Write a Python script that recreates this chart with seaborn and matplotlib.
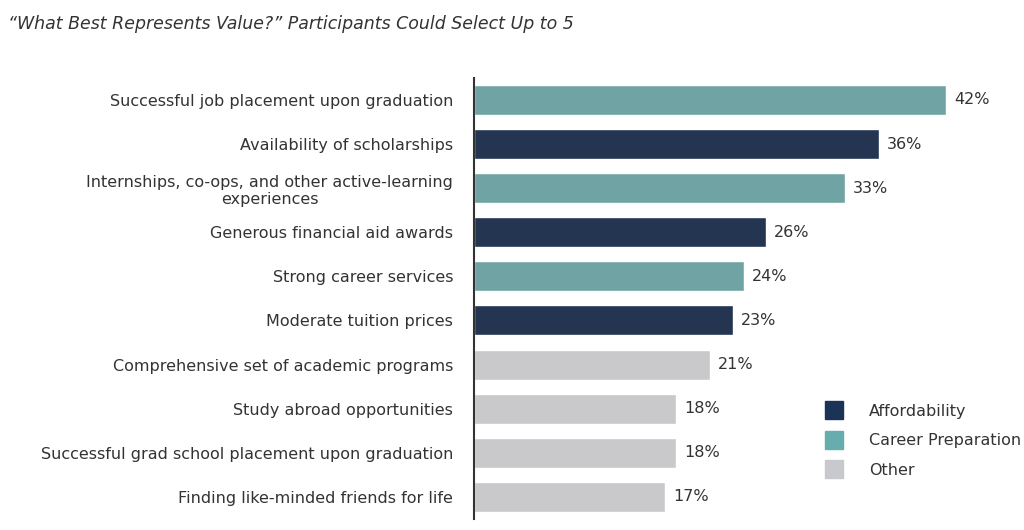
import matplotlib
matplotlib.use("Agg")
import pandas as pd
import seaborn as sns
from matplotlib import pyplot as plt
from matplotlib.lines import Line2D

# Data
LABELS = [
    "Successful job placement upon graduation",
    "Availability of scholarships",
    "Internships, co-ops, and other active-learning\nexperiences",
    "Generous financial aid awards",
    "Strong career services",
    "Moderate tuition prices",
    "Comprehensive set of academic programs",
    "Study abroad opportunities",
    "Successful grad school placement upon graduation",
    "Finding like-minded friends for life",
]
VALUES = [42, 36, 33, 26, 24, 23, 21, 18, 18, 17]
GROUPS = ["Career Preparation", "Affordability", "Career Preparation", "Affordability",
          "Career Preparation", "Affordability", "Other", "Other", "Other", "Other"]
PALETTE = {"Affordability": "#1c3358", "Career Preparation": "#67adad", "Other": "#c8c9cc"}

df = pd.DataFrame({"label": LABELS, "value": VALUES, "group": GROUPS})

sns.set_style("white")
plt.rcParams['font.family'] = ['DejaVu Sans']

fig = plt.figure(figsize=(10.24, 5.3), dpi=100)
ax = fig.add_axes([0.463, 0.021, 0.505, 0.832])

sns.barplot(data=df, x="value", y="label", hue="group", palette=PALETTE,
            dodge=False, width=0.68, legend=False, ax=ax)

ax.set_xlim(0, 46)
ax.set_ylim(len(LABELS) - 0.5, -0.5)
for i, v in enumerate(VALUES):
    ax.text(v + 0.7, i, f"{v}%", va="center", ha="left", fontsize=11.5, color="#333333")

ax.set_xlabel("")
ax.set_ylabel("")
ax.set_xticks([])
ax.tick_params(axis="y", length=0, labelsize=11.5, labelcolor="#333333", pad=14)
for lbl in ax.get_yticklabels():
    lbl.set_horizontalalignment("center")
    lbl.set_multialignment("center")
ax.yaxis.set_tick_params(pad=0)
for lbl in ax.get_yticklabels():
    lbl.set_horizontalalignment("right")
ax.tick_params(axis="y", pad=15)
for s in ["top", "right", "bottom"]:
    ax.spines[s].set_visible(False)
ax.spines["left"].set_color("#333333")
ax.spines["left"].set_linewidth(1.5)

handles = [Line2D([], [], marker="s", linestyle="", markersize=13, color=PALETTE[g])
           for g in ["Affordability", "Career Preparation", "Other"]]
fig.legend(handles, ["Affordability", "Career Preparation", "Other"],
           loc="upper left", bbox_to_anchor=(0.785, 0.265), frameon=False,
           fontsize=11.5, labelcolor="#333333", labelspacing=0.9, handletextpad=1.2)

fig.text(0.008, 0.955, "\u201cWhat Best Represents Value?\u201d Participants Could Select Up to 5",
         fontsize=12.5, style="italic", color="#333333", va="center")

fig.savefig("out.png", dpi=100)
